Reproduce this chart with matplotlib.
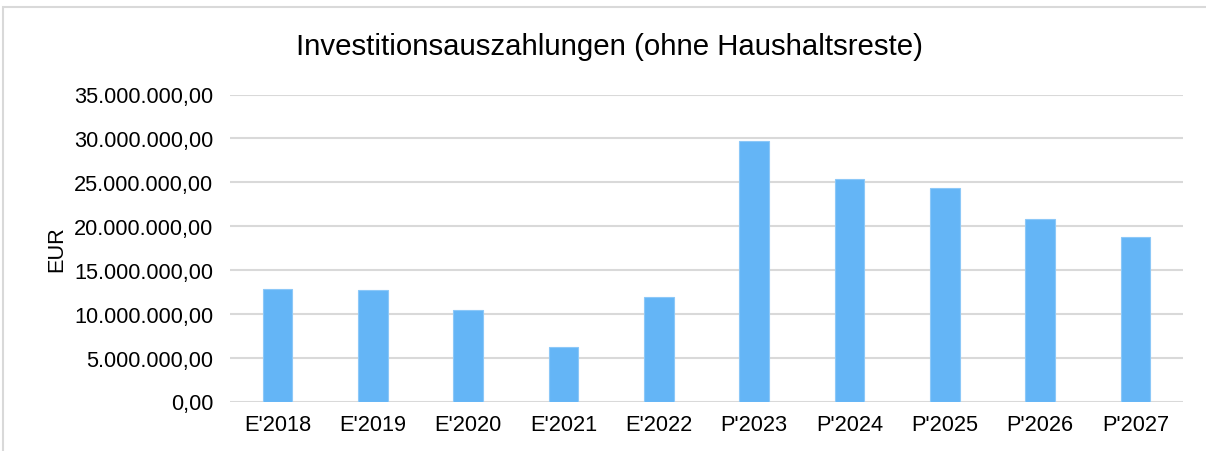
import matplotlib
matplotlib.use("Agg")
import matplotlib.pyplot as plt
from matplotlib.ticker import FuncFormatter, MultipleLocator
from matplotlib.patches import Rectangle

categories = ["E'2018", "E'2019", "E'2020", "E'2021", "E'2022",
              "P'2023", "P'2024", "P'2025", "P'2026", "P'2027"]
values = [12810000, 12690000, 10410000, 6190000, 11960000,
          29740000, 25370000, 24340000, 20830000, 18740000]
title = "Investitionsauszahlungen (ohne Haushaltsreste)"
ylabel = "EUR"

plt.rcParams['font.family'] = ['Liberation Sans', 'DejaVu Sans']

fig = plt.figure(figsize=(12.06, 4.52), dpi=100)
ax = fig.add_axes([230/1206, 1-402.5/452, (1183-230)/1206, (402.5-95.5)/452])

x = list(range(len(categories)))
ax.bar(x, values, width=0.31, color='#64B5F6', edgecolor='#8CC8F8', linewidth=0.8, zorder=3)

ax.set_xlim(-0.5, len(categories)-0.5)
ax.set_ylim(0, 35000000)
ax.yaxis.set_major_locator(MultipleLocator(5000000))

def de_fmt(v, pos):
    s = f"{v:,.2f}"
    return s.replace(",", "X").replace(".", ",").replace("X", ".")
ax.yaxis.set_major_formatter(FuncFormatter(de_fmt))

ax.set_xticks(x)
ax.set_xticklabels(categories)
ax.tick_params(axis='y', length=0, pad=12, labelsize=15.7, colors='#000000')
ax.tick_params(axis='x', length=0, pad=9, labelsize=15.7, colors='#000000')

ax.grid(axis='y', color='#d9d9d9', linewidth=1.5, zorder=0)
for s in ax.spines.values():
    s.set_visible(False)

ax.set_ylabel(ylabel, fontsize=15.7)
ax.yaxis.set_label_coords(-(230-57)/953, 0.5)
ax.yaxis.label.set_va('center')

fig.text(609/1206, 1-47/452, title, ha='center', va='center', fontsize=21.2)

fig.patches.append(Rectangle((3/1206, -0.1), 1.2, 1.1 - 8/452, transform=fig.transFigure,
                             fill=False, edgecolor='#d9d9d9', linewidth=1.5))

fig.savefig("out.png", dpi=100)
